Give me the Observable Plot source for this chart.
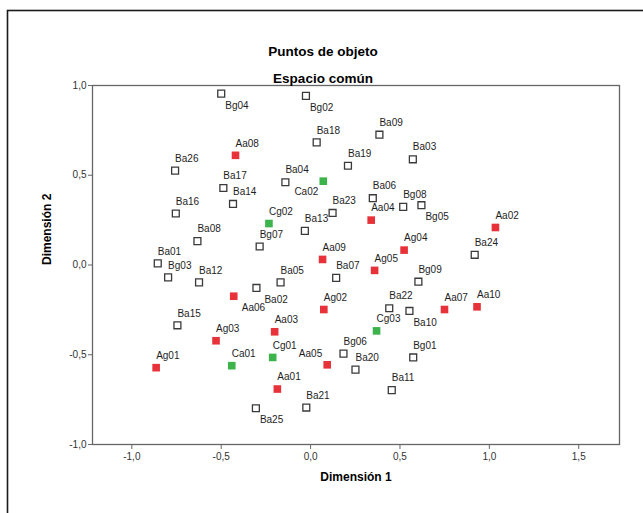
<!DOCTYPE html>
<html><head><meta charset="utf-8">
<script src="https://cdn.jsdelivr.net/npm/d3@7"></script>
<script src="https://cdn.jsdelivr.net/npm/@observablehq/plot@0.6"></script>
<style>body{margin:0;background:#fff} svg{display:block}</style>
</head><body><div id="chart"></div>
<script>
// ---- data ----
const names = ["Ba01","Ba02","Ba03","Ba04","Ba05","Ba06","Ba07","Ba08","Ba09","Ba10",
  "Ba11","Ba12","Ba13","Ba14","Ba15","Ba16","Ba17","Ba18","Ba19","Ba20",
  "Ba21","Ba22","Ba23","Ba24","Ba25","Ba26",
  "Bg01","Bg02","Bg03","Bg04","Bg05","Bg06","Bg07","Bg08","Bg09",
  "Aa01","Aa02","Aa03","Aa04","Aa05","Aa06","Aa07","Aa08","Aa09","Aa10",
  "Ag01","Ag02","Ag03","Ag04","Ag05",
  "Ca01","Ca02","Cg01","Cg02","Cg03"];
const dim1 = [-0.855,-0.303,0.572,-0.141,-0.168,0.348,0.143,-0.633,0.385,0.553,
  0.454,-0.624,-0.032,-0.434,-0.745,-0.754,-0.488,0.034,0.209,0.251,
  -0.024,0.440,0.123,0.918,-0.306,-0.758,
  0.574,-0.026,-0.797,-0.500,0.620,0.184,-0.285,0.518,0.603,
  -0.186,1.034,-0.201,0.339,0.093,-0.430,0.749,-0.420,0.067,0.931,
  -0.864,0.074,-0.529,0.523,0.358,
  -0.441,0.071,-0.212,-0.233,0.369];
const dim2 = [0.009,-0.128,0.589,0.461,-0.097,0.372,-0.072,0.133,0.726,-0.256,
  -0.697,-0.097,0.190,0.340,-0.336,0.287,0.429,0.683,0.553,-0.583,
  -0.794,-0.241,0.290,0.057,-0.798,0.526,
  -0.515,0.942,-0.069,0.955,0.333,-0.494,0.103,0.324,-0.093,
  -0.691,0.209,-0.372,0.250,-0.556,-0.174,-0.248,0.611,0.031,-0.233,
  -0.572,-0.248,-0.422,0.083,-0.030,
  -0.561,0.467,-0.515,0.231,-0.367];
const xTicks = [-1.0,-0.5,0.0,0.5,1.0,1.5];
const yTicks = [-1.0,-0.5,0.0,0.5,1.0];
const titleText = "Puntos de objeto";
const subtitleText = "Espacio común";
const xLabelText = "Dimensión 1";
const yLabelText = "Dimensión 2";

// ---- layout of labels (placement only) ----
const labelPlace = {Bg04:"se",Bg02:"se",Ba25:"se",Ba10:"se",Bg05:"se",Ba02:"se2",Aa06:"se2",Ca02:"sw",Aa05:"nw"};
const placements = {
  n:{dx:0,dy:-12,textAnchor:"start"},
  se:{dx:4,dy:12,textAnchor:"start"},
  se2:{dx:8,dy:12,textAnchor:"start"},
  sw:{dx:-5,dy:11,textAnchor:"end"},
  nw:{dx:-5,dy:-11,textAnchor:"end"}
};

const pts = names.map((n,i)=>({name:n, x:dim1[i], y:dim2[i], kind:n[0], place:labelPlace[n]||"n"}));
const fmt = d => d3.format(".1f")(d).replace("\u2212","-").replace(".",",");
const font = "'Liberation Sans', Arial, sans-serif";
const RED = "#e8323a", GREEN = "#3cb44b";

const labelMarks = Object.entries(placements).map(([k,p]) =>
  Plot.text(pts.filter(d=>d.place===k), {x:"x", y:"y", text:"name", dx:p.dx, dy:p.dy,
    textAnchor:p.textAnchor, fontSize:10, fill:"#1e1e1e"}));

const chart = Plot.plot({
  width:643, height:513,
  marginLeft:92, marginRight:24, marginTop:85, marginBottom:69,
  style:{fontFamily:font, background:"#fff"},
  x:{domain:[-1.22,1.728], label:null},
  y:{domain:[-1,1], label:null},
  marks:[
    Plot.frame({stroke:"#1a1a1a", strokeWidth:1.6, insetLeft:-85, insetTop:-75, insetRight:-60, insetBottom:-100}),
    Plot.frame({stroke:"#666", strokeWidth:1.3}),
    Plot.axisX({ticks:xTicks, tickFormat:fmt, tickSize:5, tickPadding:3, fontSize:10, fill:"#333", stroke:"#666", label:null}),
    Plot.axisY({ticks:yTicks, tickFormat:fmt, tickSize:4, tickPadding:2, fontSize:10, fill:"#333", stroke:"#666", label:null}),
    Plot.dot(pts.filter(d=>d.kind==="B"), {x:"x", y:"y", symbol:"square", r:3.9, fill:"#fff", stroke:"#3a3a3a", strokeWidth:1.3}),
    Plot.dot(pts.filter(d=>d.kind==="A"), {x:"x", y:"y", symbol:"square", r:4.3, fill:RED}),
    Plot.dot(pts.filter(d=>d.kind==="C"), {x:"x", y:"y", symbol:"square", r:4.3, fill:GREEN}),
    ...labelMarks,
    Plot.text([titleText], {text:d=>d, frameAnchor:"top", dx:-33, dy:-39, fontSize:13.5, fontWeight:"bold", fill:"#000"}),
    Plot.text([subtitleText], {text:d=>d, frameAnchor:"top", dx:-33, dy:-12, fontSize:13.5, fontWeight:"bold", fill:"#000"}),
    Plot.text([xLabelText], {text:d=>d, frameAnchor:"bottom", dy:36, fontSize:12, fontWeight:"bold", fill:"#000"}),
    Plot.text([yLabelText], {text:d=>d, frameAnchor:"left", dx:-45, rotate:-90, fontSize:12, fontWeight:"bold", fill:"#000"})
  ]
});
document.getElementById("chart").appendChild(chart);
</script>
</body></html>
